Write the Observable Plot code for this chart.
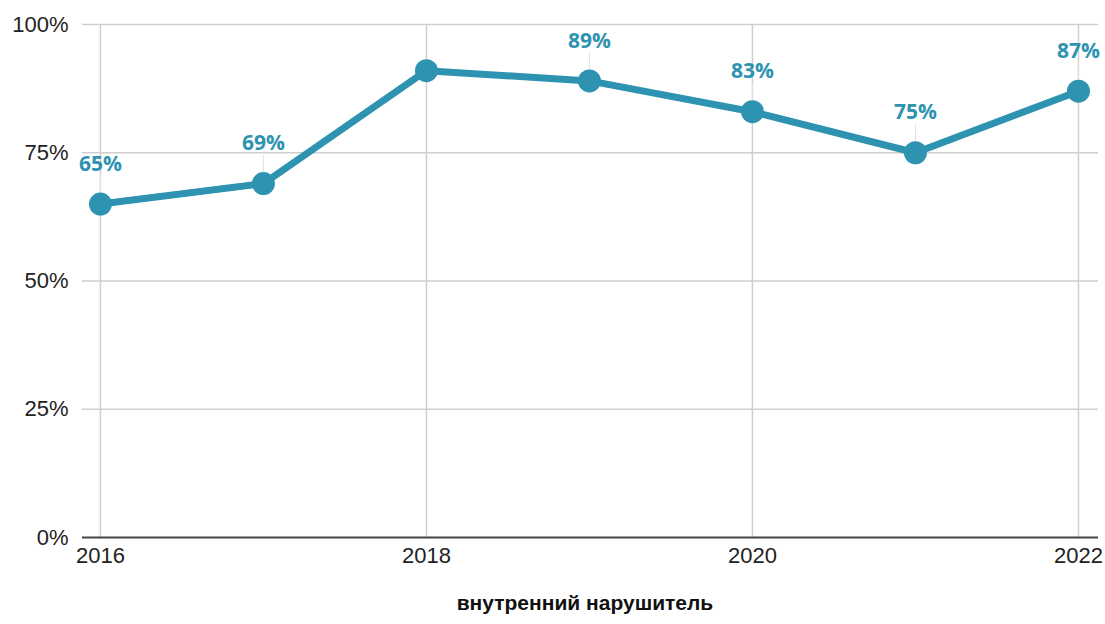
<!DOCTYPE html>
<html>
<head>
<meta charset="utf-8">
<script src="https://cdn.jsdelivr.net/npm/d3@7"></script>
<script src="https://cdn.jsdelivr.net/npm/@observablehq/plot@0.6"></script>
<style>
  html, body { margin: 0; padding: 0; background: #fff; }
  #chart { width: 1105px; }
  #title { width: 1105px; text-align: center; font-family: "Liberation Sans", Arial, sans-serif; font-weight: bold; font-size: 21px; color: #111; margin-top: 1px; padding-left: 65px; box-sizing: border-box; }
</style>
</head>
<body>
<div id="chart"></div>
<div id="title">внутренний нарушитель</div>
<script>
const years = [2016, 2017, 2018, 2019, 2020, 2021, 2022];
const values = [65, 69, 91, 89, 83, 75, 87];
const labels = ["65%", "69%", "", "89%", "83%", "75%", "87%"];
const xTicks = [2016, 2018, 2020, 2022];
const yTicks = [0, 25, 50, 75, 100];

const data = years.map((y, i) => ({year: y, value: values[i], label: labels[i]}));
const labeled = data.filter(d => d.label !== "");
const color = "#2e93b1";

const chart = Plot.plot({
  width: 1105,
  height: 590,
  marginTop: 24,
  marginBottom: 53,
  marginLeft: 82,
  marginRight: 7,
  style: {fontFamily: "'Liberation Sans', Arial, sans-serif", fontSize: "22px", color: "#222", background: "#fff"},
  x: {domain: [2015.89, 2022.123], ticks: xTicks, tickFormat: d => String(d), label: null},
  y: {domain: [0, 100], ticks: yTicks, tickFormat: d => d + "%", label: null},
  marks: [
    Plot.ruleY(yTicks.filter(t => t > 0), {stroke: "#cfcfcf", strokeWidth: 1.5}),
    Plot.ruleX(xTicks, {stroke: "#cfcfcf", strokeWidth: 1.5}),
    Plot.ruleX(labeled, {x: "year", y1: d => d.value + 2, y2: d => d.value + 5.5, stroke: "#e2e2e2", strokeWidth: 1}),
    Plot.ruleY([0], {stroke: "#444", strokeWidth: 2}),
    Plot.axisY({ticks: yTicks, tickSize: 0, tickPadding: 14, tickFormat: d => d + "%", fontSize: 22}),
    Plot.axisX({ticks: xTicks, tickSize: 0, tickPadding: 10, tickFormat: d => String(d), fontSize: 22}),
    Plot.line(data, {x: "year", y: "value", stroke: color, strokeWidth: 7, strokeLinejoin: "round"}),
    Plot.dot(data, {x: "year", y: "value", r: 11.5, fill: color, stroke: "none"}),
    Plot.text(labeled, {x: "year", y: "value", text: "label", dy: -40, fill: color, fontWeight: "bold", fontSize: 21, fontFamily: "'Open Sans', sans-serif"})
  ]
});
document.getElementById("chart").appendChild(chart);
</script>
</body>
</html>
